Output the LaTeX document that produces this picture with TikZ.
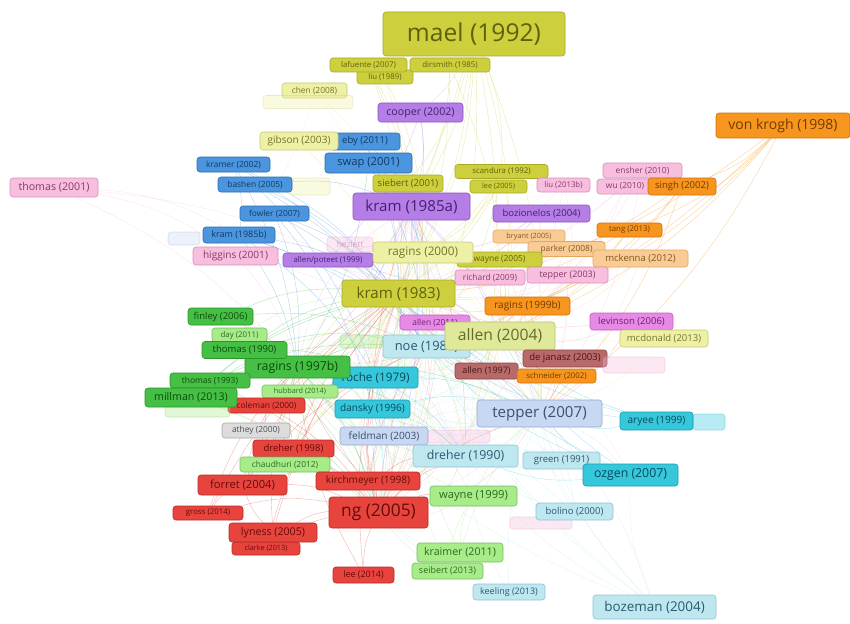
\documentclass[tikz,border=0pt]{standalone}
\usepackage{fontspec}
\setmainfont{Open Sans}
\usetikzlibrary{backgrounds}
% fill / border / text colours of the clusters
\definecolor{cYel}{HTML}{CDD03C}\definecolor{cYelD}{HTML}{A7AA28}\definecolor{cYelT}{HTML}{5E600E}
\definecolor{cPaleYel}{HTML}{EEF0A6}\definecolor{cPaleYelD}{HTML}{C8CA72}\definecolor{cPaleYelT}{HTML}{74762C}
\definecolor{cYelGreen}{HTML}{E0E89A}\definecolor{cYelGreenD}{HTML}{B8BF6E}\definecolor{cYelGreenT}{HTML}{656C2A}
\definecolor{cPurple}{HTML}{B47EE6}\definecolor{cPurpleD}{HTML}{8A55C0}\definecolor{cPurpleT}{HTML}{45206E}
\definecolor{cBlue}{HTML}{4A95DD}\definecolor{cBlueD}{HTML}{2A6FB0}\definecolor{cBlueT}{HTML}{123A66}
\definecolor{cPink}{HTML}{F7BEDE}\definecolor{cPinkD}{HTML}{D890B8}\definecolor{cPinkT}{HTML}{8A3A6A}
\definecolor{cMagenta}{HTML}{E68AE6}\definecolor{cMagentaD}{HTML}{C060C0}\definecolor{cMagentaT}{HTML}{6E206E}
\definecolor{cOrange}{HTML}{F7961F}\definecolor{cOrangeD}{HTML}{D07010}\definecolor{cOrangeT}{HTML}{763800}
\definecolor{cPeach}{HTML}{F9CC95}\definecolor{cPeachD}{HTML}{E0A860}\definecolor{cPeachT}{HTML}{855620}
\definecolor{cGreen}{HTML}{45C045}\definecolor{cGreenD}{HTML}{2A962A}\definecolor{cGreenT}{HTML}{0C4A0C}
\definecolor{cLGreen}{HTML}{A8EC8A}\definecolor{cLGreenD}{HTML}{70C060}\definecolor{cLGreenT}{HTML}{2A6A20}
\definecolor{cRed}{HTML}{E8443E}\definecolor{cRedD}{HTML}{B82A25}\definecolor{cRedT}{HTML}{640C0A}
\definecolor{cCyan}{HTML}{35C7DC}\definecolor{cCyanD}{HTML}{1A9AB0}\definecolor{cCyanT}{HTML}{0A4A5A}
\definecolor{cLCyan}{HTML}{BFE7F0}\definecolor{cLCyanD}{HTML}{8CC4D4}\definecolor{cLCyanT}{HTML}{2A5A70}
\definecolor{cLBlue}{HTML}{C8D8F2}\definecolor{cLBlueD}{HTML}{95AAD0}\definecolor{cLBlueT}{HTML}{3A5070}
\definecolor{cBrown}{HTML}{B86A6A}\definecolor{cBrownD}{HTML}{8A4444}\definecolor{cBrownT}{HTML}{4A1515}
\definecolor{cGray}{HTML}{DCDCDC}\definecolor{cGrayD}{HTML}{A8A8A8}\definecolor{cGrayT}{HTML}{505050}
\tikzset{
  vbox/.style={rectangle, rounded corners=3pt, inner sep=0pt, line width=0.6pt},
  sYel/.style={fill=cYel, draw=cYelD, text=cYelT},
  sPaleYel/.style={fill=cPaleYel, draw=cPaleYelD, text=cPaleYelT},
  sYelGreen/.style={fill=cYelGreen, draw=cYelGreenD, text=cYelGreenT},
  sPurple/.style={fill=cPurple, draw=cPurpleD, text=cPurpleT},
  sBlue/.style={fill=cBlue, draw=cBlueD, text=cBlueT},
  sPink/.style={fill=cPink, draw=cPinkD, text=cPinkT},
  sMagenta/.style={fill=cMagenta, draw=cMagentaD, text=cMagentaT},
  sOrange/.style={fill=cOrange, draw=cOrangeD, text=cOrangeT},
  sPeach/.style={fill=cPeach, draw=cPeachD, text=cPeachT},
  sGreen/.style={fill=cGreen, draw=cGreenD, text=cGreenT},
  sLGreen/.style={fill=cLGreen, draw=cLGreenD, text=cLGreenT},
  sRed/.style={fill=cRed, draw=cRedD, text=cRedT},
  sCyan/.style={fill=cCyan, draw=cCyanD, text=cCyanT},
  sLCyan/.style={fill=cLCyan, draw=cLCyanD, text=cLCyanT},
  sLBlue/.style={fill=cLBlue, draw=cLBlueD, text=cLBlueT},
  sBrown/.style={fill=cBrown, draw=cBrownD, text=cBrownT},
  sGray/.style={fill=cGray, draw=cGrayD, text=cGrayT},
  faint/.style={opacity=0.35},
  vlink/.style={draw=#1, opacity=0.42, line width=0.4pt},
  vhaze/.style={draw=#1, opacity=0.22, line width=0.4pt},
}
\newcommand{\vosnode}[7]{%
  \pgfmathsetmacro{\vfs}{0.56*#5}%
  \node[vbox,#6,minimum width=#4,minimum height=#5,font=\fontsize{\vfs}{\vfs}\selectfont] (#1) at (#2,#3) {#7};}
\begin{document}
\begin{tikzpicture}[x=1pt,y=-1pt]
\useasboundingbox (0,0) rectangle (850,623);
% ---- top (yellow) ----
\vosnode{mael}{474}{34}{182}{44}{sYel}{mael (1992)}
\vosnode{liu89}{385}{77}{56}{14}{sYel}{liu (1989)}
\vosnode{dirsmith}{450}{65}{80}{14}{sYel}{dirsmith (1985)}
\vosnode{lafuente}{368.5}{65}{77}{14}{sYel}{lafuente (2007)}
\vosnode{chen}{314.5}{90.5}{65}{15}{sPaleYel}{chen (2008)}
\vosnode{faintA}{308}{102}{90}{13}{sPaleYel,faint}{}
\vosnode{cooper}{420.5}{112.5}{85}{19}{sPurple}{cooper (2002)}
\vosnode{eby11}{365}{141.5}{70}{17}{sBlue}{eby (2011)}
\vosnode{gibson}{299}{141}{78}{18}{sPaleYel}{gibson (2003)}
\vosnode{swap}{368.5}{163}{87}{20}{sBlue}{swap (2001)}
\vosnode{kramer}{233.5}{164.5}{73}{15}{sBlue}{kramer (2002)}
\vosnode{faintB}{310}{186.5}{40}{17}{sPaleYel,faint}{}
\vosnode{bashen}{255}{184.5}{74}{15}{sBlue}{bashen (2005)}
\vosnode{fowler}{274.5}{213.5}{69}{15}{sBlue}{fowler (2007)}
\vosnode{faintC}{184}{238.5}{32}{13}{sLBlue,faint}{}
\vosnode{kram85b}{239}{235}{72}{16}{sBlue}{kram (1985b)}
\vosnode{higgins}{235.5}{256}{85}{18}{sPink}{higgins (2001)}
\vosnode{hezlett}{350}{244.5}{46}{15}{sPink,faint}{hezlett}
\vosnode{allenpot}{328}{260}{90}{14}{sPurple}{allen/poteet (1999)}
\vosnode{siebert}{408}{183.5}{70}{17}{sYel}{siebert (2001)}
\vosnode{kram85a}{411.5}{206.5}{117}{27}{sPurple}{kram (1985a)}
\vosnode{scandura}{501.5}{171.5}{93}{14}{sYel}{scandura (1992)}
\vosnode{lee05}{498.5}{186.5}{57}{13}{sYel}{lee (2005)}
\vosnode{liu13}{563.5}{185}{53}{14}{sPink}{liu (2013b)}
\vosnode{ensher}{642.5}{170.5}{79}{15}{sPink}{ensher (2010)}
\vosnode{wu}{625}{186.5}{56}{15}{sPink}{wu (2010)}
\vosnode{singh}{682}{186.5}{68}{17}{sOrange}{singh (2002)}
\vosnode{vonkrogh}{783}{125.5}{134}{25}{sOrange}{von krogh (1998)}
\vosnode{bozion}{541.5}{213.5}{97}{17}{sPurple}{bozionelos (2004)}
\vosnode{tang}{629.5}{230}{65}{14}{sOrange}{tang (2013)}
\vosnode{bryant}{529}{236.5}{72}{13}{sPeach}{bryant (2005)}
\vosnode{parker}{566.5}{249}{77}{15}{sPeach}{parker (2008)}
\vosnode{wayne05}{499.5}{259.5}{85}{15}{sYel}{wayne (2005)}
\vosnode{ragins00}{423}{252.5}{100}{21}{sPaleYel}{ragins (2000)}
\vosnode{mckenna}{640.5}{258.5}{95}{17}{sPeach}{mckenna (2012)}
\vosnode{richard}{490}{277.5}{70}{15}{sPink}{richard (2009)}
\vosnode{tepper03}{567.5}{275}{81}{16}{sPink}{tepper (2003)}
% ---- centre ----
\vosnode{kram83}{398.5}{293.5}{113}{27}{sYel}{kram (1983)}
\vosnode{allen11}{435}{322.5}{70}{15}{sMagenta}{allen (2011)}
\vosnode{ragins99}{527.5}{306}{85}{18}{sOrange}{ragins (1999b)}
\vosnode{faintD}{361.5}{341.5}{43}{13}{sLGreen,faint}{}
\vosnode{noe}{426.5}{346.5}{87}{23}{sLCyan}{noe (1988)}
\vosnode{allen04}{500}{336}{110}{28}{sYelGreen}{allen (2004)}
\vosnode{levinson}{631.5}{321.5}{83}{17}{sMagenta}{levinson (2006)}
\vosnode{mcdonald}{664}{338.5}{88}{17}{sPaleYel}{mcdonald (2013)}
\vosnode{dejanasz}{565}{358.5}{84}{17}{sBrown}{de janasz (2003)}
\vosnode{faintE}{634}{365}{62}{16}{sPink,faint}{}
\vosnode{allen97}{486.5}{371}{63}{16}{sBrown}{allen (1997)}
\vosnode{schneider}{556.5}{376}{79}{14}{sOrange}{schneider (2002)}
\vosnode{roche}{375.5}{377.5}{85}{21}{sCyan}{roche (1979)}
\vosnode{ragins97}{297.5}{367}{105}{22}{sGreen}{ragins (1997b)}
\vosnode{hubbard}{300}{391.5}{76}{13}{sLGreen}{hubbard (2014)}
\vosnode{dansky}{372.5}{409}{75}{18}{sCyan}{dansky (1996)}
\vosnode{feldman}{384}{436}{88}{18}{sLBlue}{feldman (2003)}
\vosnode{faintF}{459}{436.5}{62}{13}{sPink,faint}{}
\vosnode{tepper07}{539.5}{413.5}{125}{27}{sLBlue}{tepper (2007)}
\vosnode{aryee}{656.5}{421}{73}{18}{sCyan}{aryee (1999)}
\vosnode{faintG}{709}{422}{32}{16}{sCyan,faint}{}
% ---- left (green / red) ----
\vosnode{finley}{220.5}{316.5}{65}{17}{sGreen}{finley (2006)}
\vosnode{day}{239.5}{335}{55}{14}{sLGreen}{day (2011)}
\vosnode{thomas90}{244.5}{350}{85}{17}{sGreen}{thomas (1990)}
\vosnode{thomas93}{210}{380.5}{80}{15}{sGreen}{thomas (1993)}
\vosnode{coleman}{266.5}{405.5}{77}{15}{sRed}{coleman (2000)}
\vosnode{faintH}{197.5}{411}{65}{12}{sLGreen,faint}{}
\vosnode{millman}{191}{397.5}{92}{19}{sGreen}{millman (2013)}
\vosnode{athey}{256}{430.5}{68}{15}{sGray}{athey (2000)}
\vosnode{dreher98}{293.5}{448.5}{81}{17}{sRed}{dreher (1998)}
\vosnode{chaudhuri}{285}{464.5}{90}{15}{sLGreen}{chaudhuri (2012)}
\vosnode{kirch}{368}{481}{104}{18}{sRed}{kirchmeyer (1998)}
\vosnode{forret}{242.5}{485}{89}{20}{sRed}{forret (2004)}
\vosnode{gross}{208}{513}{70}{14}{sRed}{gross (2014)}
\vosnode{clarke}{266}{548.5}{68}{13}{sRed}{clarke (2013)}
\vosnode{lyness}{273}{532.5}{88}{19}{sRed}{lyness (2005)}
\vosnode{ng}{378.5}{512.5}{99}{31}{sRed}{ng (2005)}
\vosnode{lee14}{363.5}{575}{61}{16}{sRed}{lee (2014)}
% ---- bottom right ----
\vosnode{dreher90}{465.5}{456}{105}{22}{sLCyan}{dreher (1990)}
\vosnode{green91}{561.5}{460.5}{77}{17}{sLCyan}{green (1991)}
\vosnode{ozgen}{630.5}{475}{95}{22}{sCyan}{ozgen (2007)}
\vosnode{wayne99}{473.5}{496}{87}{20}{sLGreen}{wayne (1999)}
\vosnode{faintI}{541}{523}{62}{12}{sPink,faint}{}
\vosnode{bolino}{574.5}{511.5}{77}{17}{sLCyan}{bolino (2000)}
\vosnode{kraimer}{460}{552.5}{86}{19}{sLGreen}{kraimer (2011)}
\vosnode{seibert}{447.5}{571}{71}{16}{sLGreen}{seibert (2013)}
\vosnode{keeling}{509}{592}{72}{16}{sLCyan}{keeling (2013)}
\vosnode{bozeman}{654.5}{607}{123}{24}{sLCyan}{bozeman (2004)}
\vosnode{thomas01}{54}{187.5}{88}{19}{sPink}{thomas (2001)}
% ---- links ----
\begin{pgfonlayer}{background}
% dense core of the network
\foreach \s/\c in {kram83/cYel,noe/cLCyan,roche/cCyan,dansky/cCyan,ragins97/cGreen,feldman/cLBlue,
  allen04/cYelGreen,tepper07/cLBlue,ng/cRed,dreher90/cLCyan,kram85a/cPurple,ragins00/cPaleYel}
 {\foreach \t in {kram83,noe,roche,dansky,ragins97,feldman,allen04,tepper07,ng,dreher90,kram85a,ragins00}
  {\ifx\s\t\else\draw[vhaze=\c] (\s) to[bend right=22] (\t);\fi}}
\foreach \s/\c/\tl in {
 mael/cYel/{kram83,ragins00,kram85a,noe,allen04,tepper07,ragins97,dreher90,siebert,scandura,cooper},
 lafuente/cYel/{kram83,ragins00,noe},
 dirsmith/cYel/{kram83,kram85a,allen04},
 liu89/cYel/{kram83,ragins00},
 chen/cPaleYel/{kram83,ragins00,kram85b},
 cooper/cPurple/{kram85a,kram83,allenpot},
 gibson/cPaleYel/{kram83,ragins00,noe},
 eby11/cBlue/{kram85a,kram83,swap},
 swap/cBlue/{kram83,kram85a,noe,ragins97,ragins00},
 kramer/cBlue/{kram83,kram85b,ragins97,noe},
 bashen/cBlue/{kram83,kram85a,noe,roche},
 fowler/cBlue/{kram83,ragins97,noe,dansky},
 kram85b/cBlue/{kram83,ragins97,roche,noe,tepper07},
 higgins/cPink/{kram83,ragins97,noe,allen04},
 allenpot/cPurple/{kram83,ragins00,allen04,noe},
 siebert/cYel/{kram83,ragins00,kram85a},
 kram85a/cPurple/{kram83,ragins00,ragins97,noe,allen04,tepper07,dreher90,roche,ng},
 scandura/cYel/{kram83,ragins00,allen04,noe},
 lee05/cYel/{kram83,ragins00},
 liu13/cPink/{kram83,tepper03,allen04},
 ensher/cPink/{kram83,allen04,tepper07},
 wu/cPink/{kram83,allen04,tepper03},
 singh/cOrange/{kram83,ragins99,allen04,tepper07},
 vonkrogh/cOrange/{kram83,ragins99,singh,tang,allen04,tepper07,noe},
 bozion/cPurple/{kram83,ragins00,allen04},
 tang/cOrange/{ragins99,allen04,kram83},
 bryant/cPeach/{kram83,ragins00,allen04},
 parker/cPeach/{kram83,allen04,tepper07},
 ragins00/cPaleYel/{kram83,ragins97,noe,allen04,tepper07,dreher90,ng,roche},
 wayne05/cYel/{kram83,allen04,tepper07},
 mckenna/cPeach/{allen04,tepper07,kram83},
 richard/cPink/{kram83,allen04,tepper07},
 tepper03/cPink/{tepper07,allen04,kram83,ng},
 kram83/cYel/{ragins97,noe,allen04,tepper07,dreher90,ng,roche,dansky,kirch,forret,thomas90},
 allen11/cMagenta/{kram83,allen04},
 ragins99/cOrange/{kram83,allen04,tepper07,noe,ragins97},
 noe/cLCyan/{ragins97,allen04,tepper07,dreher90,ng,roche,dansky},
 allen04/cYelGreen/{tepper07,ragins97,dreher90,ng,roche,feldman,ozgen},
 levinson/cMagenta/{allen04,tepper07,kram83},
 mcdonald/cPaleYel/{allen04,tepper07,kram83},
 dejanasz/cBrown/{allen04,tepper07,noe},
 allen97/cBrown/{allen04,tepper07,noe,kram83},
 schneider/cOrange/{allen04,tepper07,noe},
 ragins97/cGreen/{thomas90,roche,dansky,ng,dreher90,tepper07,forret,kirch,noe},
 thomas90/cGreen/{kram83,noe,roche,ng},
 roche/cCyan/{tepper07,dreher90,ng,dansky,kirch},
 hubbard/cLGreen/{kram83,ragins97,ng},
 coleman/cRed/{ng,kram83,ragins97,forret},
 dansky/cCyan/{tepper07,dreher90,ng},
 feldman/cLBlue/{tepper07,dreher90,ng,kram83},
 tepper07/cLBlue/{dreher90,ng,ozgen,bozeman,aryee,green91,bolino},
 aryee/cCyan/{tepper07,noe,kram83,allen04},
 finley/cGreen/{kram83,ragins97,noe},
 day/cLGreen/{ragins97,kram83},
 thomas93/cGreen/{ragins97,kram83,noe,ng},
 millman/cGreen/{ragins97,kram83,ng},
 athey/cGray/{kram83,ragins97,ng},
 dreher98/cRed/{ng,kram83,ragins97,noe},
 chaudhuri/cLGreen/{ng,ragins97,kram83},
 kirch/cRed/{ng,kram83,ragins97,noe,dreher90},
 forret/cRed/{ng,kram83,ragins97,noe,kirch},
 gross/cRed/{ng,forret,ragins97,kram83},
 lyness/cRed/{ng,kram83,forret,ragins97},
 clarke/cRed/{ng,kram83},
 ng/cRed/{dreher90,tepper07,noe,roche,wayne99,dansky,kram85a},
 lee14/cRed/{ng,kram83,ragins97},
 dreher90/cLCyan/{tepper07,ozgen,noe,green91},
 green91/cLCyan/{tepper07,dreher90,kram83},
 ozgen/cCyan/{tepper07,dreher90,kram83,allen04,noe},
 wayne99/cLGreen/{ng,kram83,tepper07,ragins97},
 bolino/cLCyan/{tepper07,dreher90,kram83},
 kraimer/cLGreen/{ng,wayne99,kram83,tepper07},
 seibert/cLGreen/{ng,wayne99,kram83},
 keeling/cLCyan/{tepper07,dreher90,ng},
 bozeman/cLCyan/{tepper07,dreher90,ozgen,noe,kram83,allen04,ragins97},
 thomas01/cPink/{kram85b,kram83,higgins,ragins97}}
 {\foreach \t in \tl {\draw[vlink=\c] (\s) to[bend left=12] (\t);}}
\end{pgfonlayer}
\end{tikzpicture}
\end{document}
